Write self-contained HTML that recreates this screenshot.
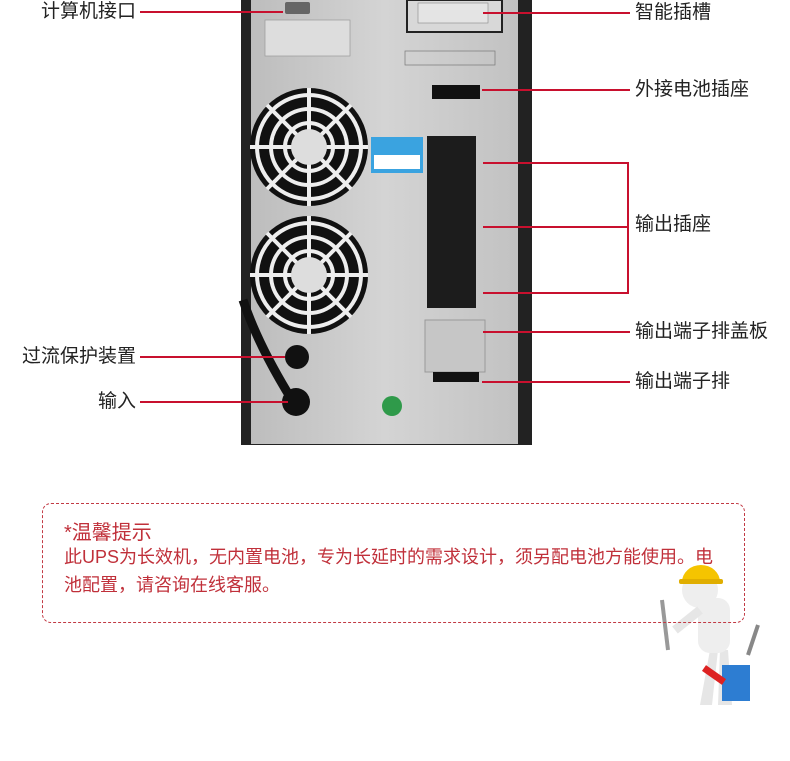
<!DOCTYPE html>
<html><head><meta charset="utf-8"><style>
body{margin:0;background:#fff;width:790px;height:761px;overflow:hidden;font-family:"Liberation Sans","Noto Sans CJK SC",sans-serif}
svg{position:absolute;left:0;top:0}
.lb{position:absolute;font-size:19px;color:#222;line-height:22px;white-space:nowrap}
.rl{text-align:right;width:200px}
.box{position:absolute;left:42px;top:503px;width:701px;height:118px;border:1.5px dashed #c23a44;border-radius:9px}
.t1{position:absolute;left:64px;top:516px;font-size:20px;color:#c0303a}
.t2{position:absolute;left:64px;top:543px;font-size:18px;color:#c0303a;line-height:28px;white-space:nowrap}
</style></head><body>
<svg width="790" height="761" viewBox="0 0 790 761">
<defs>
<linearGradient id="pg" x1="0" x2="1"><stop offset="0" stop-color="#bdbdbd"/><stop offset=".5" stop-color="#d4d4d4"/><stop offset="1" stop-color="#c2c2c2"/></linearGradient>
</defs>
<rect x="241" y="0" width="291" height="445" fill="#222"/>
<rect x="251" y="0" width="267" height="444" fill="url(#pg)"/>
<rect x="285" y="2" width="25" height="12" rx="2" fill="#666"/>
<rect x="265" y="20" width="85" height="36" fill="#ddd" stroke="#999" stroke-width=".7"/>
<rect x="407" y="0" width="95" height="32" fill="#d8d8d8" stroke="#222" stroke-width="2"/>
<rect x="418" y="3" width="70" height="20" fill="#e4e4e4" stroke="#888" stroke-width=".6"/>
<rect x="405" y="51" width="90" height="14" fill="none" stroke="#777" stroke-width=".7"/>
<rect x="432" y="85" width="48" height="14" fill="#111"/>
<g id="f1">
<circle cx="309" cy="147" r="59" fill="#111"/>
<circle cx="309" cy="147" r="52" fill="none" stroke="#eee" stroke-width="4"/>
<circle cx="309" cy="147" r="38" fill="none" stroke="#eee" stroke-width="4"/>
<circle cx="309" cy="147" r="24" fill="none" stroke="#eee" stroke-width="4"/>
<path d="M309 88v118M250 147h118M267 105l84 84M351 105l-84 84" stroke="#eee" stroke-width="4"/>
<circle cx="309" cy="147" r="18" fill="#ddd"/>
</g>
<use href="#f1" y="128"/>
<rect x="371" y="137" width="52" height="36" fill="#3aa3e0"/>
<rect x="374" y="155" width="46" height="14" fill="#fff"/>
<rect x="427" y="136" width="49" height="172" fill="#1c1c1c"/>
<rect x="425" y="320" width="60" height="52" fill="#c6c6c6" stroke="#999"/>
<rect x="433" y="372" width="46" height="10" fill="#111"/>
<path d="M243 300 Q258 345 292 400" stroke="#111" stroke-width="9" fill="none"/>
<circle cx="297" cy="357" r="12" fill="#111"/>
<circle cx="296" cy="402" r="14" fill="#111"/>
<circle cx="392" cy="406" r="10" fill="#2f9a4a"/>
<g stroke="#c8102e" stroke-width="2" fill="none">
<path d="M140 12H283"/><path d="M483 13H630"/><path d="M482 90H630"/>
<path d="M483 163H628V293H483M483 227H628"/>
<path d="M483 332H630"/><path d="M482 382H630"/>
<path d="M140 357H285"/><path d="M140 402H288"/>
</g>
<g>
<path d="M700 705 l10 -55 l8 0 l-6 55zM718 705 l2 -55 l8 0 l4 55z" fill="#e6e6e6"/>
<rect x="698" y="598" width="32" height="55" rx="12" fill="#eee"/>
<circle cx="700" cy="590" r="18" fill="#eee"/>
<path d="M682 582 a19 17 0 0 1 38 0 z" fill="#f5c400"/>
<rect x="679" y="579" width="44" height="5" rx="2" fill="#e0ae00"/>
<path d="M700 610 L675 630" stroke="#e6e6e6" stroke-width="9"/>
<path d="M662 600 L668 650" stroke="#999" stroke-width="4"/>
<path d="M722 665 h28 v36 h-28z" fill="#2d7dd2"/>
<path d="M704 668 l20 14" stroke="#d22" stroke-width="7"/>
<path d="M748 655 l10 -30" stroke="#888" stroke-width="4"/>
</g>
</svg>
<div class="lb rl" style="left:-64px;top:1px">计算机接口</div>
<div class="lb" style="left:635px;top:2px">智能插槽</div>
<div class="lb" style="left:635px;top:79px">外接电池插座</div>
<div class="lb" style="left:635px;top:214px">输出插座</div>
<div class="lb" style="left:635px;top:321px">输出端子排盖板</div>
<div class="lb" style="left:635px;top:371px">输出端子排</div>
<div class="lb rl" style="left:-64px;top:346px">过流保护装置</div>
<div class="lb rl" style="left:-64px;top:391px">输入</div>
<div class="box"></div>
<div class="t1">*温馨提示</div>
<div class="t2">此UPS为长效机，无内置电池，专为长延时的需求设计，须另配电池方能使用。电<br>池配置，请咨询在线客服。</div>
</body></html>
